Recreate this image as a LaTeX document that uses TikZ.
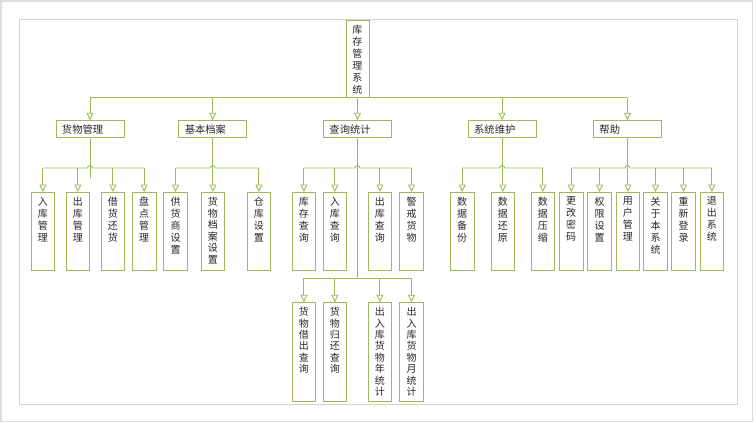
\documentclass[tikz,border=0pt]{standalone}
\usepackage{fontspec}
\setmainfont{Noto Sans CJK SC}
\usetikzlibrary{arrows.meta,calc}
\definecolor{gl}{HTML}{9BBB59}
\definecolor{fro}{HTML}{DCDCDC}
\definecolor{fri}{HTML}{D2D2D2}
\definecolor{tx}{HTML}{262626}
\newcommand{\vtxt}[4]{\parbox[c][#1pt][t]{#2pt}{\centering\fontsize{10}{#3}\selectfont\vspace*{4.5pt}#4}}
\newcommand{\htxt}[1]{\parbox[c][17pt][c]{68pt}{\fontsize{10.3}{12}\selectfont\hspace*{6pt}\raisebox{-3pt}{#1}}}
\begin{document}
\begin{tikzpicture}[x=1pt,y=-1pt,
  box/.style={draw=gl, line width=0.9pt, inner sep=0pt, text=tx, anchor=north west},
  link/.style={draw=gl, line width=0.9pt},
  arr/.style={link, -{Triangle[open, width=7pt, length=7.5pt, fill=white]}},
]
\useasboundingbox (0,0) rectangle (756,423);
% frames
\draw[fro, line width=1.6pt] (1,1) rectangle (752.5,421.5);
\draw[fri, line width=1pt] (19,19) rectangle (737,404);

% root
\node[box] (root) at (345.5,20) {\vtxt{77}{23}{12}{库\\存\\管\\理\\系\\统}};

% level 1
\node[box] (hw) at (55.5,120.3) {\htxt{货物管理}};
\node[box] (jb) at (178.3,120.3) {\htxt{基本档案}};
\node[box] (cx) at (323,120.3) {\htxt{查询统计}};
\node[box] (wh) at (467.7,120.3) {\htxt{系统维护}};
\node[box] (bz) at (593,120.3) {\htxt{帮助}};

% level 2
\node[box] (c11) at (30.7,192) {\vtxt{77.5}{23.5}{12}{入\\库\\管\\理}};
\node[box] (c12) at (65.7,192) {\vtxt{77.5}{23.5}{12}{出\\库\\管\\理}};
\node[box] (c13) at (100.7,192) {\vtxt{77.5}{23.5}{12}{借\\货\\还\\货}};
\node[box] (c14) at (132,192) {\vtxt{77.5}{23.5}{12}{盘\\点\\管\\理}};

\node[box] (c21) at (163.3,192) {\vtxt{77.5}{23.5}{12}{供\\货\\商\\设\\置}};
\node[box] (c22) at (200.7,192) {\vtxt{77.5}{23.5}{11.6}{货\\物\\档\\案\\设\\置}};
\node[box] (c23) at (246.7,192) {\vtxt{77.5}{23.5}{12}{仓\\库\\设\\置}};

\node[box] (c31) at (291.7,192) {\vtxt{77.5}{23.5}{12}{库\\存\\查\\询}};
\node[box] (c32) at (322.7,192) {\vtxt{77.5}{23.5}{12}{入\\库\\查\\询}};
\node[box] (c33) at (367.7,192) {\vtxt{77.5}{23.5}{12}{出\\库\\查\\询}};
\node[box] (c34) at (399.3,192) {\vtxt{77.5}{23.5}{12}{警\\戒\\货\\物}};

\node[box] (c41) at (450,192) {\vtxt{77.5}{23.5}{12}{数\\据\\备\\份}};
\node[box] (c42) at (490.7,192) {\vtxt{77.5}{23.5}{12}{数\\据\\还\\原}};
\node[box] (c43) at (530.7,192) {\vtxt{77.5}{23.5}{12}{数\\据\\压\\缩}};

\node[box] (c51) at (559,192) {\vtxt{77.5}{23.5}{12}{更\\改\\密\\码}};
\node[box] (c52) at (587.3,192) {\vtxt{77.5}{23.5}{12}{权\\限\\设\\置}};
\node[box] (c53) at (615.7,192) {\vtxt{77.5}{23.5}{12}{用\\户\\管\\理}};
\node[box] (c54) at (643.3,192) {\vtxt{77.5}{23.5}{12}{关\\于\\本\\系\\统}};
\node[box] (c55) at (671.3,192) {\vtxt{77.5}{23.5}{12}{重\\新\\登\\录}};
\node[box] (c56) at (699.7,192) {\vtxt{77.5}{23.5}{12}{退\\出\\系\\统}};

% level 3
\node[box] (d1) at (291.7,302.3) {\vtxt{98.5}{23.5}{11.4}{货\\物\\借\\出\\查\\询}};
\node[box] (d2) at (322.7,302.3) {\vtxt{98.5}{23.5}{11.4}{货\\物\\归\\还\\查\\询}};
\node[box] (d3) at (367.7,302.3) {\vtxt{98.5}{23.5}{11.4}{出\\入\\库\\货\\物\\年\\统\\计}};
\node[box] (d4) at (399.3,302.3) {\vtxt{98.5}{23.5}{11.4}{出\\入\\库\\货\\物\\月\\统\\计}};

% bus levels
\coordinate (L2) at (0,168);
\coordinate (L3) at (0,278.3);

% root connectors
\draw[link] (hw.north |- root.south) -- (bz.north |- root.south);
\foreach \p in {hw,jb,wh,bz}{\draw[arr] (\p.north |- root.south) -- (\p.north);}
\draw[arr] (root.south) -- (cx.north);

% verticals from level 1
\draw[link] (hw.south) -- ($(hw.south |- L2)+(0,10)$);
\draw[link] (jb.south) -- (jb.south |- L2);
\draw[link] (cx.south) -- (cx.south |- L3);
\draw[link] (wh.south) -- (wh.south |- L2);
\draw[link] (bz.south) -- (bz.south |- L2);

% level-2 buses with hop
\draw[link] (c11.north |- L2) -- ($(hw.south |- L2)+(-2.5,0)$) arc[start angle=180,end angle=0,radius=2.5pt] -- (c14.north |- L2);
\draw[link] (c21.north |- L2) -- ($(jb.south |- L2)+(-2.5,0)$) arc[start angle=180,end angle=0,radius=2.5pt] -- (c23.north |- L2);
\draw[link] (c31.north |- L2) -- ($(cx.south |- L2)+(-2.5,0)$) arc[start angle=180,end angle=0,radius=2.5pt] -- (c34.north |- L2);
\draw[link] (c41.north |- L2) -- ($(wh.south |- L2)+(-2.5,0)$) arc[start angle=180,end angle=0,radius=2.5pt] -- (c43.north |- L2);
\draw[link] (c51.north |- L2) -- ($(bz.south |- L2)+(-2.5,0)$) arc[start angle=180,end angle=0,radius=2.5pt] -- (c56.north |- L2);

\foreach \c in {c11,c12,c13,c14,c21,c22,c23,c31,c32,c33,c34,c41,c42,c43,c51,c52,c53,c54,c55,c56}{
  \draw[arr] (\c.north |- L2) -- (\c.north);}

% level-3 bus
\draw[link] (d1.north |- L3) -- (d4.north |- L3);
\foreach \c in {d1,d2,d3,d4}{\draw[arr] (\c.north |- L3) -- (\c.north);}
\end{tikzpicture}
\end{document}
